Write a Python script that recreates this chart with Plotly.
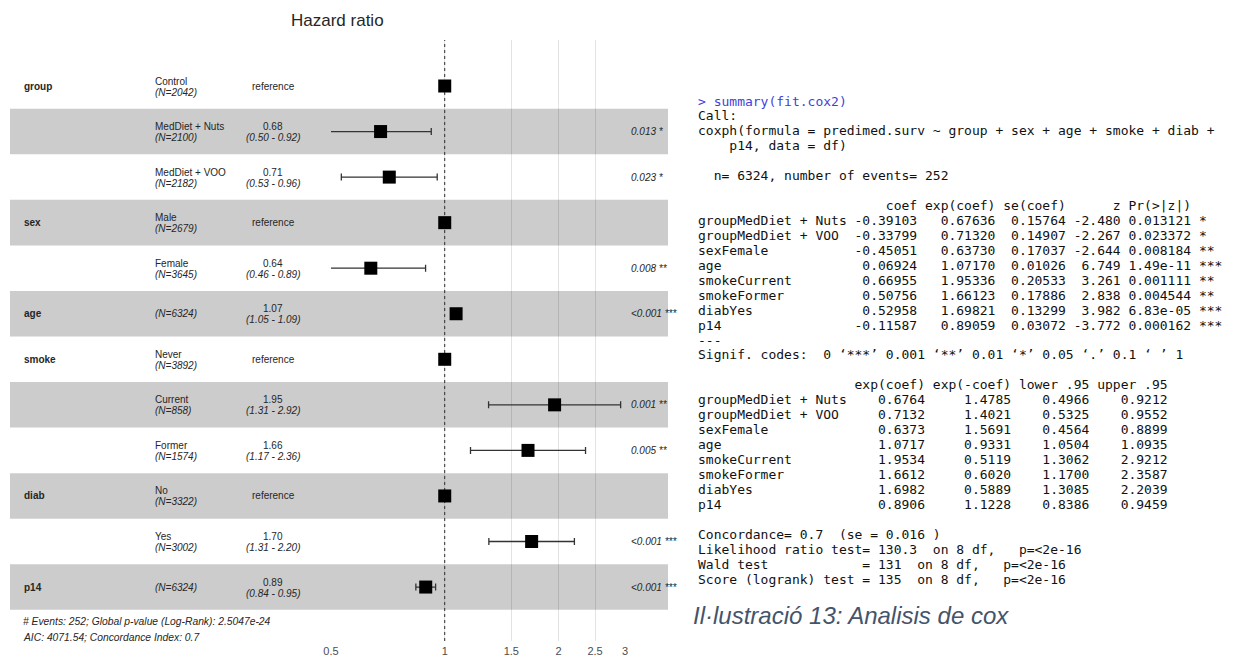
import math
import plotly.graph_objects as go

W, H = 1233, 657

# ---------------- data ----------------
variables = ["group", "", "", "sex", "", "age", "smoke", "", "", "diab", "", "p14"]
levels = ["Control", "MedDiet + Nuts", "MedDiet + VOO", "Male", "Female", "",
          "Never", "Current", "Former", "No", "Yes", ""]
n_obs = [2042, 2100, 2182, 2679, 3645, 6324, 3892, 858, 1574, 3322, 3002, 6324]
is_reference = [True, False, False, True, False, False, True, False, False, True, False, False]
hazard_ratio = [1, 0.6764, 0.7132, 1, 0.6373, 1.0717, 1, 1.9534, 1.6612, 1, 1.6982, 0.8906]
ci_lower = [None, 0.4966, 0.5325, None, 0.4564, 1.0504, None, 1.3062, 1.1700, None, 1.3085, 0.8386]
ci_upper = [None, 0.9212, 0.9552, None, 0.8899, 1.0935, None, 2.9212, 2.3587, None, 2.2039, 0.9459]
p_labels = ["", "0.013 *", "0.023 *", "", "0.008 **", "<0.001 ***", "",
            "0.001 **", "0.005 **", "", "<0.001 ***", "<0.001 ***"]
tick_values = [0.5, 1, 1.5, 2, 2.5, 3]
tick_labels = ["0.5", "1", "1.5", "2", "2.5", "3"]
footer_lines = ["# Events: 252; Global p-value (Log-Rank): 2.5047e-24",
                "AIC: 4071.54; Concordance Index: 0.7"]

console_lines = [
    "> summary(fit.cox2)",
    "Call:",
    "coxph(formula = predimed.surv ~ group + sex + age + smoke + diab + ",
    "    p14, data = df)",
    "",
    "  n= 6324, number of events= 252 ",
    "",
    "                        coef exp(coef) se(coef)      z Pr(>|z|)    ",
    "groupMedDiet + Nuts -0.39103   0.67636  0.15764 -2.480 0.013121 *  ",
    "groupMedDiet + VOO  -0.33799   0.71320  0.14907 -2.267 0.023372 *  ",
    "sexFemale           -0.45051   0.63730  0.17037 -2.644 0.008184 ** ",
    "age                  0.06924   1.07170  0.01026  6.749 1.49e-11 ***",
    "smokeCurrent         0.66955   1.95336  0.20533  3.261 0.001111 ** ",
    "smokeFormer          0.50756   1.66123  0.17886  2.838 0.004544 ** ",
    "diabYes              0.52958   1.69821  0.13299  3.982 6.83e-05 ***",
    "p14                 -0.11587   0.89059  0.03072 -3.772 0.000162 ***",
    "---",
    "Signif. codes:  0 \u2018***\u2019 0.001 \u2018**\u2019 0.01 \u2018*\u2019 0.05 \u2018.\u2019 0.1 \u2018 \u2019 1",
    "",
    "                    exp(coef) exp(-coef) lower .95 upper .95",
    "groupMedDiet + Nuts    0.6764     1.4785    0.4966    0.9212",
    "groupMedDiet + VOO     0.7132     1.4021    0.5325    0.9552",
    "sexFemale              0.6373     1.5691    0.4564    0.8899",
    "age                    1.0717     0.9331    1.0504    1.0935",
    "smokeCurrent           1.9534     0.5119    1.3062    2.9212",
    "smokeFormer            1.6612     0.6020    1.1700    2.3587",
    "diabYes                1.6982     0.5889    1.3085    2.2039",
    "p14                    0.8906     1.1228    0.8386    0.9459",
    "",
    "Concordance= 0.7  (se = 0.016 )",
    "Likelihood ratio test= 130.3  on 8 df,   p=<2e-16",
    "Wald test            = 131  on 8 df,   p=<2e-16",
    "Score (logrank) test = 135  on 8 df,   p=<2e-16",
]
caption = "Il\u00b7lustraci\u00f3 13: Analisis de cox"
title_text = "Hazard ratio"

# ---------------- layout helpers ----------------
def px_x(p):
    return p / W

def px_y(p):
    return 1 - p / H

rows = list(range(1, len(levels) + 1))
row0_px, row_step = 86.0, 45.55
grid_top_px, grid_bot_px = 40.0, 641.0
y_top = 1 + (grid_top_px - row0_px) / row_step
y_bot = 1 + (grid_bot_px - row0_px) / row_step

SANS = "Liberation Sans, Arial, sans-serif"
MONO = "DejaVu Sans Mono, monospace"
TXT = "#262626"

fig = go.Figure()

# reference squares
ref_rows = [r for r, ref in zip(rows, is_reference) if ref]
ref_hr = [h for h, ref in zip(hazard_ratio, is_reference) if ref]
fig.add_trace(go.Scatter(
    x=ref_hr, y=ref_rows, mode="markers",
    marker=dict(symbol="square", size=13, color="black"),
    showlegend=False, hoverinfo="skip"))

# estimates with CI
est_rows = [r for r, ref in zip(rows, is_reference) if not ref]
est_hr = [h for h, ref in zip(hazard_ratio, is_reference) if not ref]
est_lo = [l for l, ref in zip(ci_lower, is_reference) if not ref]
est_up = [u for u, ref in zip(ci_upper, is_reference) if not ref]
fig.add_trace(go.Scatter(
    x=est_hr, y=est_rows, mode="markers",
    marker=dict(symbol="square", size=13, color="black"),
    error_x=dict(type="data", symmetric=False,
                 array=[u - h for u, h in zip(est_up, est_hr)],
                 arrayminus=[h - l for h, l in zip(est_hr, est_lo)],
                 color="#333333", thickness=1.3, width=3.5),
    showlegend=False, hoverinfo="skip"))

shapes = []
# alternating grey bands
for r in rows:
    if r % 2 == 0:
        shapes.append(dict(type="rect", xref="paper", yref="y",
                           x0=px_x(10), x1=px_x(668), y0=r - 0.5, y1=r + 0.5,
                           fillcolor="#cccccc", line=dict(width=0), layer="below"))
# dotted reference line at HR = 1
shapes.append(dict(type="line", xref="x", yref="paper", x0=1, x1=1,
                   y0=px_y(grid_bot_px), y1=px_y(grid_top_px),
                   line=dict(color="#333333", width=1, dash="dot"), layer="between"))

ann = []
# title
ann.append(dict(text=title_text, xref="paper", yref="paper", x=px_x(337), y=px_y(20),
                xanchor="center", yanchor="middle", showarrow=False,
                font=dict(family=SANS, size=17, color=TXT)))

for r, var, lev, n, ref, h, lo, up, p in zip(rows, variables, levels, n_obs, is_reference,
                                             hazard_ratio, ci_lower, ci_upper, p_labels):
    if var:
        ann.append(dict(text=f"<b>{var}</b>", xref="paper", yref="y", x=px_x(22), y=r,
                        xanchor="left", yanchor="middle", showarrow=False,
                        font=dict(family=SANS, size=10, color=TXT)))
    if lev:
        ann.append(dict(text=lev, xref="paper", yref="y", x=px_x(153), y=r, yshift=5,
                        xanchor="left", yanchor="middle", showarrow=False,
                        font=dict(family=SANS, size=10, color=TXT)))
        ann.append(dict(text=f"<i>(N={n})</i>", xref="paper", yref="y", x=px_x(153), y=r, yshift=-6,
                        xanchor="left", yanchor="middle", showarrow=False,
                        font=dict(family=SANS, size=10, color=TXT)))
    else:
        ann.append(dict(text=f"<i>(N={n})</i>", xref="paper", yref="y", x=px_x(153), y=r,
                        xanchor="left", yanchor="middle", showarrow=False,
                        font=dict(family=SANS, size=10, color=TXT)))
    if ref:
        ann.append(dict(text="reference", xref="paper", yref="y", x=px_x(273), y=r,
                        xanchor="center", yanchor="middle", showarrow=False,
                        font=dict(family=SANS, size=10, color=TXT)))
    else:
        ann.append(dict(text=f"{h:.2f}", xref="paper", yref="y", x=px_x(273), y=r, yshift=5,
                        xanchor="center", yanchor="middle", showarrow=False,
                        font=dict(family=SANS, size=10, color=TXT)))
        ann.append(dict(text=f"<i>({lo:.2f} - {up:.2f})</i>", xref="paper", yref="y",
                        x=px_x(273), y=r, yshift=-6,
                        xanchor="center", yanchor="middle", showarrow=False,
                        font=dict(family=SANS, size=10, color=TXT)))
    if p:
        ann.append(dict(text="<i>" + p.replace("<", "&lt;") + "</i>", xref="paper", yref="y",
                        x=px_x(629), y=r, xanchor="left", yanchor="middle", showarrow=False,
                        font=dict(family=SANS, size=10, color=TXT)))

for i, line in enumerate(footer_lines):
    ann.append(dict(text=f"<i>{line}</i>", xref="paper", yref="paper", x=px_x(21),
                    y=px_y(621 + 16 * i), xanchor="left", yanchor="middle", showarrow=False,
                    font=dict(family=SANS, size=10.3, color=TXT)))

# console output
for i, line in enumerate(console_lines):
    if not line:
        continue
    t = line.replace("&", "&amp;").replace("<", "&lt;").replace(">", "&gt;").replace(" ", "\u00a0")
    ann.append(dict(text=t, xref="paper", yref="paper", x=px_x(696), y=px_y(101 + i * 14.94),
                    xanchor="left", yanchor="middle", showarrow=False,
                    font=dict(family=MONO, size=13, color="#3f3fdc" if i == 0 else "#111111")))

ann.append(dict(text=f"<i>{caption}</i>", xref="paper", yref="paper", x=px_x(691), y=px_y(615),
                xanchor="left", yanchor="middle", showarrow=False,
                font=dict(family=SANS, size=24, color="#44546A")))

fig.update_layout(
    width=W, height=H, margin=dict(l=0, r=0, t=0, b=0),
    paper_bgcolor="white", plot_bgcolor="rgba(0,0,0,0)",
    shapes=shapes, annotations=ann, showlegend=False,
    xaxis=dict(type="log", domain=[px_x(331), px_x(625)],
               range=[math.log10(0.5), math.log10(3)],
               tickvals=tick_values, ticktext=tick_labels,
               showgrid=True, gridcolor="rgba(0,0,0,0.11)", gridwidth=1,
               zeroline=False, showline=False, ticks="", automargin=False,
               ticklabelstandoff=2,
               tickfont=dict(family=SANS, size=11, color="#4d4d4d")),
    yaxis=dict(domain=[px_y(grid_bot_px), px_y(grid_top_px)], range=[y_bot, y_top],
               showgrid=False, zeroline=False, showline=False, showticklabels=False,
               ticks="", automargin=False),
)

fig.write_html("out.html", config={"displayModeBar": False},
               post_script="document.body.style.margin='0px';document.body.style.overflow='hidden';")
